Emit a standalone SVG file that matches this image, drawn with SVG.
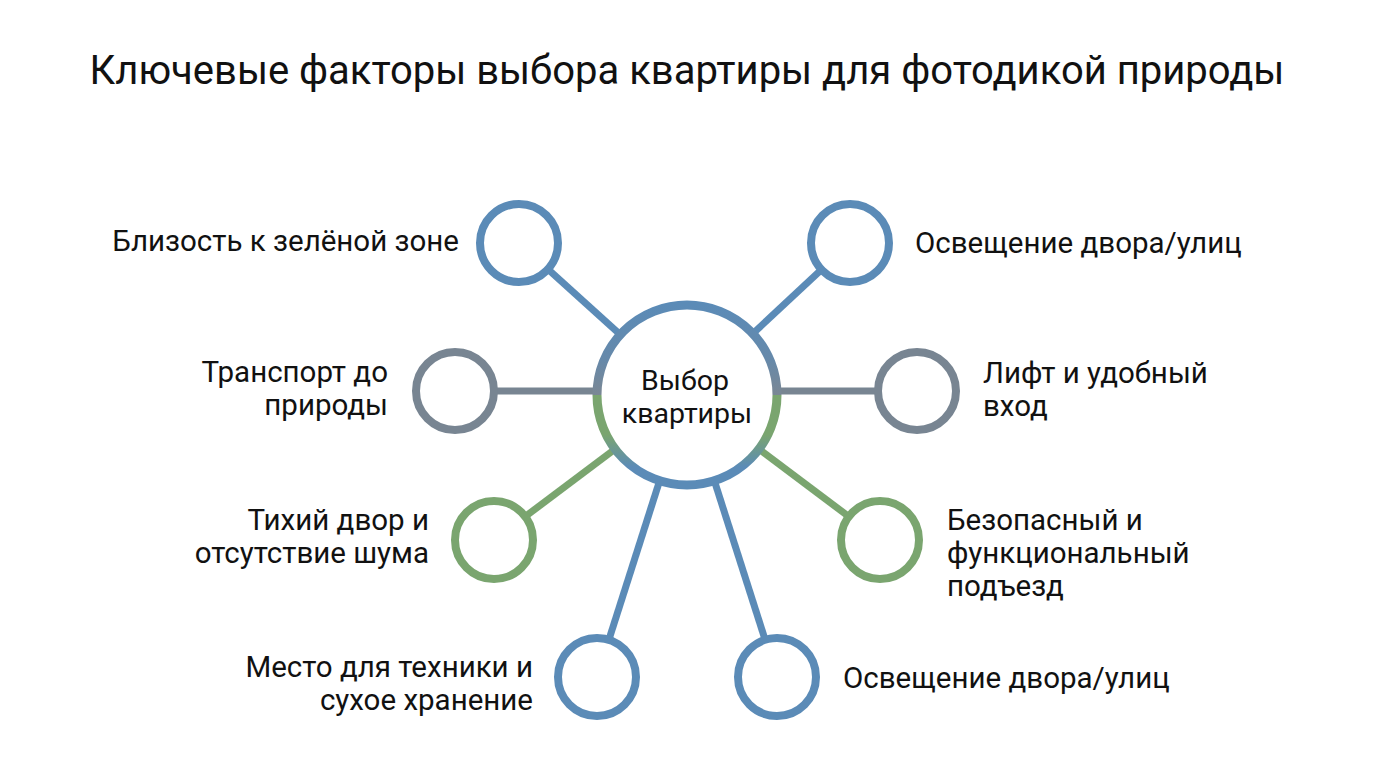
<svg xmlns="http://www.w3.org/2000/svg" width="1376" height="768" viewBox="0 0 1376 768">
<style>
text{font-family:Roboto,"Noto Sans","Liberation Sans",sans-serif;fill:#111;}
.t{font-size:40px;}
.l{font-size:29.5px;}
.c{font-size:28.5px;text-anchor:middle;}
.r{text-anchor:end;}
.sat{fill:#fff;stroke-width:8;}
.blue{stroke:#5b8bb7;}
.grey{stroke:#788592;}
.green{stroke:#7aa56f;}
.ln{stroke-width:7;fill:none;}
</style>
<defs>
<linearGradient id="cg" x1="0" y1="0" x2="0" y2="1">
<stop offset="0" stop-color="#5b8bb7"/>
<stop offset="0.3" stop-color="#6689aa"/>
<stop offset="0.5" stop-color="#7a8794"/>
<stop offset="0.5" stop-color="#7aa56f"/>
<stop offset="0.72" stop-color="#7aa56f"/>
<stop offset="0.9" stop-color="#5b8bb7"/>
<stop offset="1" stop-color="#5b8bb7"/>
</linearGradient>
</defs>
<rect width="1376" height="768" fill="#fff"/>
<text class="t" x="687" y="84" text-anchor="middle">Ключевые факторы выбора квартиры для фотодикой природы</text>
<g id="connectors">
<line class="ln blue" x1="687" y1="395" x2="519" y2="243"/>
<line class="ln blue" x1="687" y1="395" x2="850" y2="243"/>
<line class="ln grey" x1="687" y1="391" x2="455" y2="391"/>
<line class="ln grey" x1="687" y1="391" x2="917" y2="391"/>
<line class="ln green" x1="687" y1="395" x2="494" y2="540"/>
<line class="ln green" x1="687" y1="395" x2="880" y2="540"/>
<line class="ln blue" x1="687" y1="395" x2="597" y2="677"/>
<line class="ln blue" x1="687" y1="395" x2="777" y2="677"/>
</g>
<g id="center">
<circle cx="687" cy="395" r="90" fill="#fff" stroke="url(#cg)" stroke-width="9"/>
<text class="c" x="685" y="390">Выбор</text>
<text class="c" x="687" y="423">квартиры</text>
</g>
<g id="n1">
<circle class="sat blue" cx="519" cy="243" r="39"/>
<text class="l r" x="459" y="251">Близость к зелёной зоне</text>
</g>
<g id="n2">
<circle class="sat blue" cx="850" cy="243" r="39"/>
<text class="l" x="915" y="253">Освещение двора/улиц</text>
</g>
<g id="n3">
<circle class="sat grey" cx="455" cy="391" r="39"/>
<text class="l r" x="388" y="382">Транспорт до</text>
<text class="l r" x="388" y="415">природы</text>
</g>
<g id="n4">
<circle class="sat grey" cx="917" cy="391" r="39"/>
<text class="l" x="983" y="383">Лифт и удобный</text>
<text class="l" x="983" y="416">вход</text>
</g>
<g id="n5">
<circle class="sat green" cx="494" cy="540" r="39"/>
<text class="l r" x="429" y="530">Тихий двор и</text>
<text class="l r" x="429" y="563">отсутствие шума</text>
</g>
<g id="n6">
<circle class="sat green" cx="880" cy="540" r="39"/>
<text class="l" x="947" y="530">Безопасный и</text>
<text class="l" x="947" y="563">функциональный</text>
<text class="l" x="947" y="596">подъезд</text>
</g>
<g id="n7">
<circle class="sat blue" cx="597" cy="677" r="39"/>
<text class="l r" x="533" y="677">Место для техники и</text>
<text class="l r" x="533" y="710">сухое хранение</text>
</g>
<g id="n8">
<circle class="sat blue" cx="777" cy="677" r="39"/>
<text class="l" x="843" y="688">Освещение двора/улиц</text>
</g>
</svg>
